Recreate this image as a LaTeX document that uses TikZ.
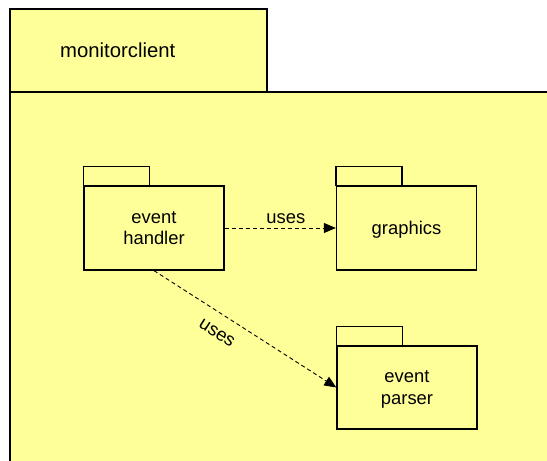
\documentclass[tikz,border=0pt]{standalone}
\usepackage{fontspec}
\setmainfont{Liberation Sans}
\usetikzlibrary{arrows.meta}
\definecolor{pkgfill}{HTML}{FFFF99}
\begin{document}
\begin{tikzpicture}[x=1pt,y=-1pt,
  pkgline/.style={draw=black,line width=1.3pt,fill=pkgfill},
  pkgbox/.style={pkgline,minimum width=140pt,minimum height=84pt,inner sep=0pt,
    text depth=0pt,align=center,font=\fontsize{18.4}{21.2}\selectfont},
  pkgtab/.style={pkgline},
  dep/.style={dash pattern=on 4pt off 3pt,line width=0.9pt,
    -{Triangle[length=12pt,width=10pt]}},
  deplabel/.style={font=\fontsize{18.4}{21}\selectfont,inner sep=1pt}]
\useasboundingbox (0,0) rectangle (547,461);
\clip (0,0) rectangle (547,461);
\fill[white] (0,0) rectangle (547,461);

% enclosing package: tab and body
\draw[pkgtab] (10,9) rectangle (267,92);
\draw[pkgline] (10,92) rectangle (570,480);
\node[anchor=base west,inner sep=0pt,font=\fontsize{20.3}{24}\selectfont] (title) at (60,57) {monitorclient};

% inner packages
\node[pkgbox] (handler) at (154,228) {event\\handler};
\node[pkgbox] (graphics) at (406.5,228) {graphics};
\node[pkgbox,minimum height=83pt] (parser) at (407,387.5) {event\\parser};
\foreach \p in {handler,graphics,parser}
  \draw[pkgtab] (\p.north west) rectangle ++(66,-19);

% dependencies
\draw[dep] (handler.east) -- node[deplabel,above=3pt,pos=0.55] (uses1) {uses} (graphics.west);
\draw[dep] (handler.south) -- node[deplabel,sloped,pos=0.4,below=12pt] (uses2) {uses} (parser.west);
\end{tikzpicture}
\end{document}
